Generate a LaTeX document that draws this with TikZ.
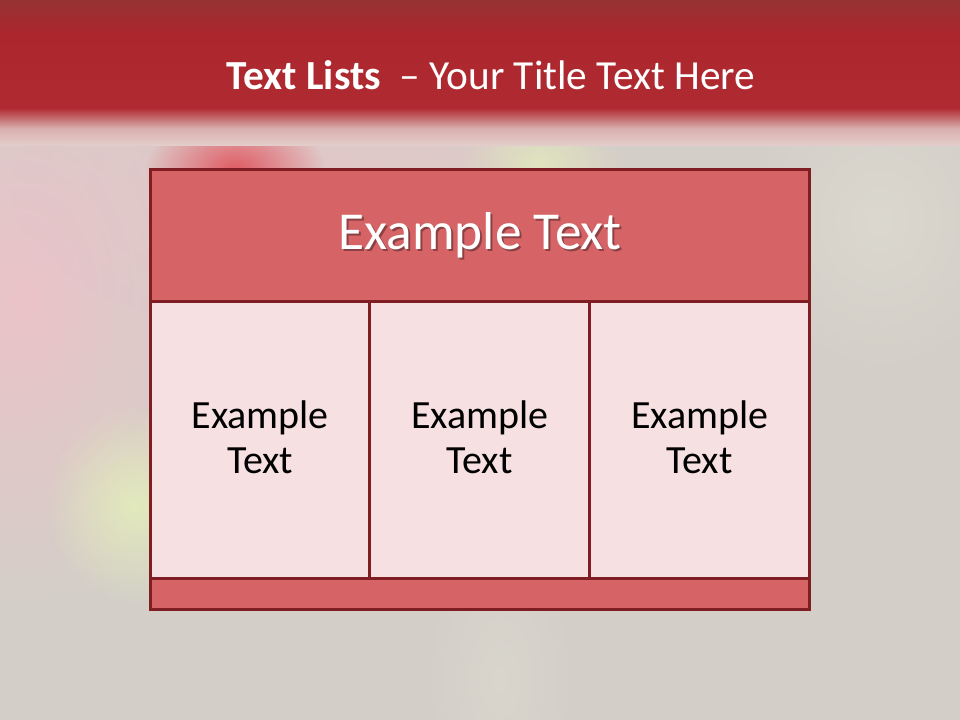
\documentclass[tikz,border=0pt]{standalone}
\usepackage{fontspec}
\setmainfont{Carlito}
\usetikzlibrary{shadings,fadings}
\definecolor{bgbase}{HTML}{D3CFC8}
\definecolor{bandtop}{HTML}{963232}
\definecolor{bandmid}{HTML}{AC262D}
\definecolor{bandlow}{HTML}{B02B31}
\definecolor{bandfade}{HTML}{D9AFAE}
\definecolor{bandedge}{HTML}{E4CFCC}
\definecolor{frame}{HTML}{801D23}
\definecolor{headfill}{HTML}{D66467}
\definecolor{cellfill}{HTML}{F6E0E2}
\definecolor{pinkblob}{HTML}{ECC2C8}
\definecolor{greenblob}{HTML}{E2EABC}
\definecolor{redblob}{HTML}{E04E58}
\definecolor{lightblob}{HTML}{DDDAD1}
\pgfdeclareverticalshading{band}{100bp}{color(0bp)=(bandedge); color(25bp)=(bandedge); color(31bp)=(bandfade); color(38bp)=(bandlow); color(63bp)=(bandmid); color(75bp)=(bandtop); color(100bp)=(bandtop)}
\tikzfading[name=softblob, inner color=transparent!0, outer color=transparent!100]
\tikzset{
  cellbox/.style={draw=frame, line width=2.6pt, fill=cellfill},
  headbox/.style={draw=frame, line width=2.6pt, fill=headfill},
  celltext/.style={font=\fontsize{30}{34}\selectfont, text=black, align=center},
  headtext/.style={font=\fontsize{40}{46}\selectfont, text=white},
  blob/.style={path fading=softblob},
}
\begin{document}
\begin{tikzpicture}[x=0.75pt,y=-0.75pt]
\useasboundingbox (0,0) rectangle (960,720);
% background
\fill[bgbase] (0,0) rectangle (960,720);
\begin{scope}
\clip (0,0) rectangle (960,720);
\fill[pinkblob, blob, opacity=0.95] (20,300) ellipse (220 and 320);
\fill[pinkblob, blob, opacity=0.7] (330,190) ellipse (320 and 150);
\fill[greenblob, blob] (135,505) ellipse (90 and 100);
\fill[redblob, blob, opacity=0.9] (235,170) ellipse (90 and 60);
\fill[greenblob, blob, opacity=0.8] (540,165) ellipse (80 and 60);
\fill[lightblob, blob, opacity=0.8] (880,220) ellipse (140 and 160);
\fill[lightblob, blob, opacity=0.6] (500,680) ellipse (80 and 160);
\end{scope}
% top band
\shade[shading=band] (0,0) rectangle (960,146);
% title
\node[text=white, anchor=center] (title) at (491,75) {\fontsize{31}{36}\selectfont\textbf{Text Lists}\ \ – Your Title Text Here};
% table
\node[headbox, minimum width=659*0.75pt, minimum height=132*0.75pt, anchor=north west, inner sep=0pt] (head) at (149,168) {};
\node[cellbox, minimum width=219*0.75pt, minimum height=277*0.75pt, anchor=north west, inner sep=0pt] (c1) at (149,300) {};
\node[cellbox, minimum width=220*0.75pt, minimum height=277*0.75pt, anchor=north west, inner sep=0pt] (c2) at (368,300) {};
\node[cellbox, minimum width=220*0.75pt, minimum height=277*0.75pt, anchor=north west, inner sep=0pt] (c3) at (588,300) {};
\node[headbox, minimum width=659*0.75pt, minimum height=31*0.75pt, anchor=north west, inner sep=0pt] (foot) at (149,577) {};
% header text with shadow
\node[headtext, text=black, opacity=0.35] (headshadow) at ([xshift=1.5pt,yshift=-1.5pt]head.center) {Example Text};
\node[headtext] (headlabel) at (head.center) {Example Text};
% cell texts
\node[celltext] (t1) at ([yshift=2pt]c1.center) {Example\\Text};
\node[celltext] (t2) at ([yshift=2pt]c2.center) {Example\\Text};
\node[celltext] (t3) at ([yshift=2pt]c3.center) {Example\\Text};
\end{tikzpicture}
\end{document}
